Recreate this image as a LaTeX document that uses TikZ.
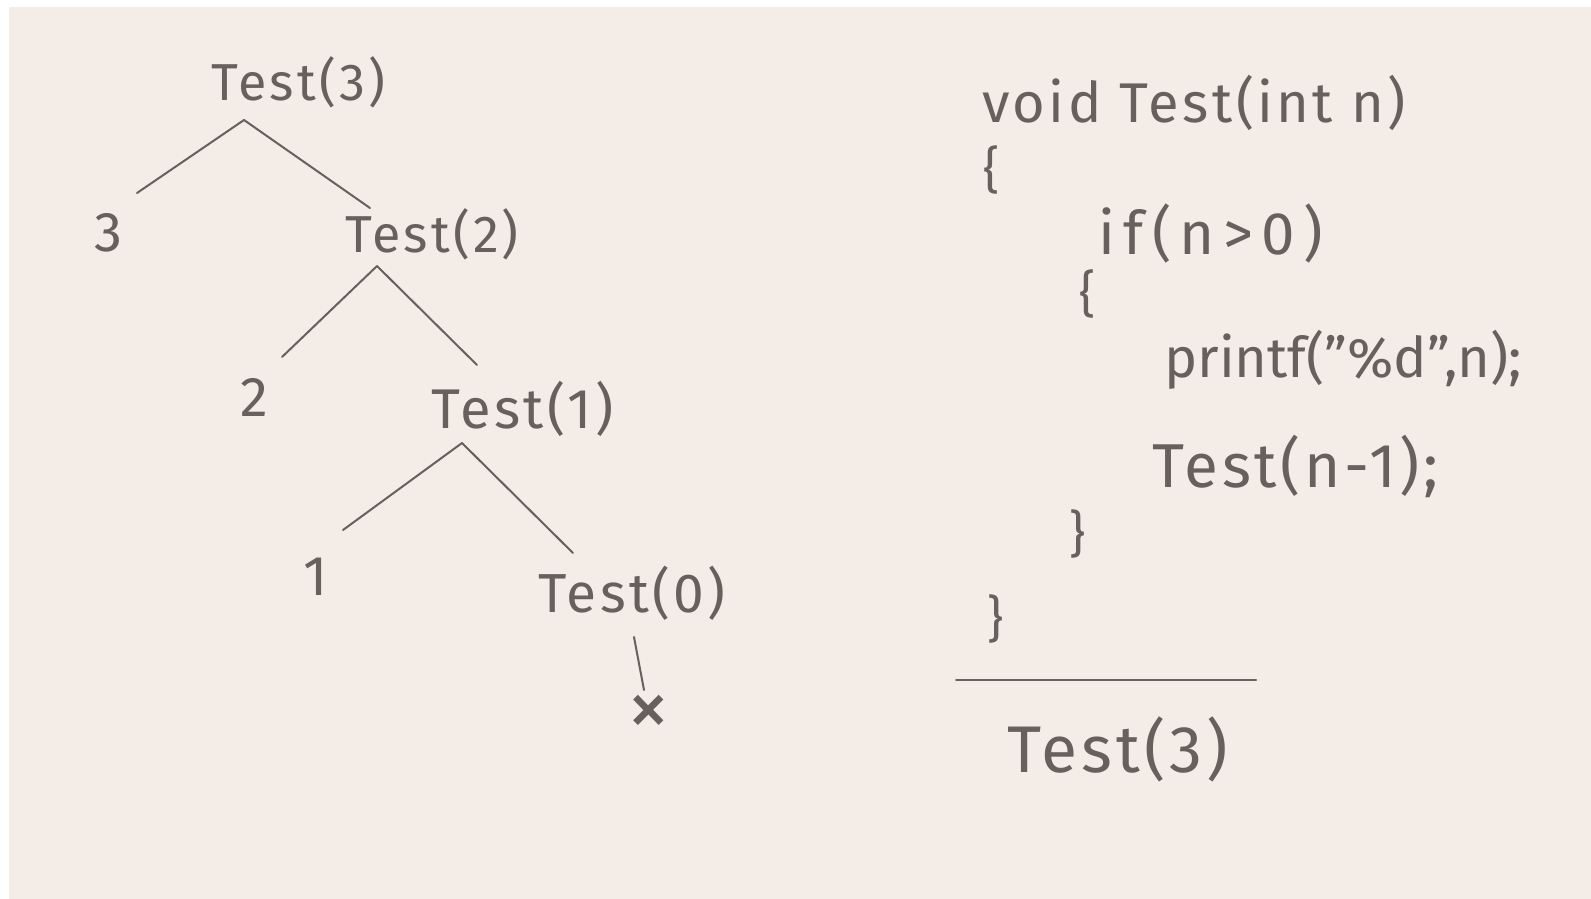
\documentclass[tikz,border=0pt]{standalone}
\usepackage{fontspec}
\setmainfont{Fira Sans}[LetterSpace=6]
\usepackage{tikz}
\usetikzlibrary{calc}
\definecolor{Pizarra}{HTML}{F4ECE6}
\definecolor{Tinta}{HTML}{67615D}
\tikzset{
  llamada/.style = {anchor=base west, inner sep=0pt, text=Tinta,
                    font=\fontsize{52}{58}\selectfont},
  valor/.style   = {inner sep=0pt, text=Tinta, font=\fontsize{56}{62}\selectfont},
  codigo/.style  = {anchor=base west, inner sep=0pt, text=Tinta,
                    font=\fontsize{56}{62}\selectfont},
  llave/.style   = {inner sep=0pt, text=Tinta, font=\fontsize{50}{56}\selectfont},
  rama/.style    = {draw=Tinta, line width=2pt, line cap=round},
}

\begin{document}
\begin{tikzpicture}[x=1pt, y=-1pt]
  \useasboundingbox (0,0) rectangle (1591,898);
  \fill[white] (-5,-5) rectangle (1600,905);
  \fill[Pizarra] (9,7) rectangle (1600,905);

  % arbol de llamadas
  \node[llamada] (t3) at (211,100) {Test(3)};
  \node[valor]   (n3) at (108,233) {3};
  \node[llamada] (t2) at (345,252) {Test(2)};
  \node[valor]   (n2) at (254,397) {2};
  \node[llamada, font=\fontsize{56}{62}\selectfont] (t1) at (431,428) {Test(1)};
  \node[valor]   (n1) at (316,577) {1};
  \node[llamada, font=\fontsize{55}{61}\selectfont] (t0) at (538,612) {Test(0)};
  \node[valor, font=\fontsize{85}{85}\selectfont] (fin) at (649,716) {×};

  \draw[rama] ([shift={(33,20)}]t3.base west) -- ([shift={(29,-40)}]n3.center);
  \draw[rama] ([shift={(33,20)}]t3.base west) -- ([shift={(25,-44)}]t2.base west);
  \draw[rama] ([shift={(32,14)}]t2.base west) -- ([shift={(28,-40)}]n2.center);
  \draw[rama] ([shift={(32,14)}]t2.base west) -- ([shift={(46,-63)}]t1.base west);
  \draw[rama] ([shift={(31,15)}]t1.base west) -- ([shift={(27,-47)}]n1.center);
  \draw[rama] ([shift={(31,15)}]t1.base west) -- ([shift={(35,-59)}]t0.base west);
  \draw[rama] ([shift={(96,25)}]t0.base west) -- ([shift={(-5,-26)}]fin.center);

  % codigo
  \node[codigo] (firma) at (982,122) {void Test(int n)};
  \node[llave]  (ab1)   at (992,170) {\{};
  \node[codigo, font=\fontsize{60}{66}\selectfont\addfontfeature{LetterSpace=14}]
    (cond) at (1098,254) {if(n>0)};
  \node[llave]  (ab2)   at (1088,294) {\{};
  \node[codigo, font=\fontsize{56}{62}\selectfont\addfontfeature{LetterSpace=0}]
    (impr) at (1164,377) {printf("\%d",n);};
  \node[codigo, font=\fontsize{62}{68}\selectfont] (rec) at (1152,487) {Test(n-1);};
  \node[llave]  (ci2)   at (1078,534) {\}};
  \node[llave]  (ci1)   at (996,619) {\}};
  \draw[rama] (956,680) -- (1256,680);
  \node[codigo, font=\fontsize{66}{72}\selectfont] (llam) at (1007,772) {Test(3)};
\end{tikzpicture}
\end{document}
